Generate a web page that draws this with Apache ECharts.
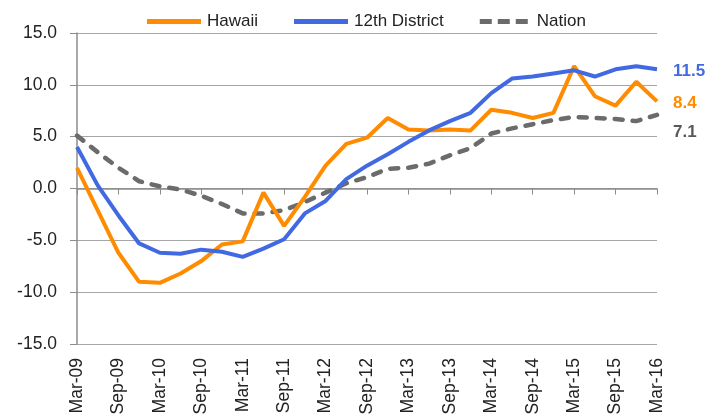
<!DOCTYPE html>
<html>
<head>
<meta charset="utf-8">
<script src="https://cdn.jsdelivr.net/npm/echarts@6/dist/echarts.min.js"></script>
<style>
html,body{margin:0;padding:0;background:#fff;}
#chart{width:725px;height:420px;}
</style>
</head>
<body>
<div id="chart"></div>
<script>
var categories = ['Mar-09','Jun-09','Sep-09','Dec-09','Mar-10','Jun-10','Sep-10','Dec-10','Mar-11','Jun-11','Sep-11','Dec-11','Mar-12','Jun-12','Sep-12','Dec-12','Mar-13','Jun-13','Sep-13','Dec-13','Mar-14','Jun-14','Sep-14','Dec-14','Mar-15','Jun-15','Sep-15','Dec-15','Mar-16'];
var hawaii = [2.0,-2.1,-6.2,-9.0,-9.1,-8.2,-7.0,-5.4,-5.1,-0.4,-3.6,-0.8,2.2,4.3,4.9,6.8,5.7,5.6,5.7,5.6,7.6,7.3,6.8,7.3,11.8,8.9,8.0,10.3,8.4];
var district = [4.0,0.3,-2.6,-5.3,-6.2,-6.3,-5.9,-6.1,-6.6,-5.8,-4.9,-2.4,-1.2,0.9,2.2,3.3,4.5,5.6,6.5,7.3,9.2,10.6,10.8,11.1,11.4,10.8,11.5,11.8,11.5];
var nation = [5.1,3.5,2.0,0.7,0.2,-0.1,-0.7,-1.5,-2.4,-2.4,-2.1,-1.3,-0.4,0.5,1.1,1.9,2.0,2.4,3.2,3.9,5.3,5.8,6.2,6.6,6.9,6.8,6.7,6.5,7.1];
var yTicks = [-15,-10,-5,0,5,10,15];
var seriesNames = ['Hawaii','12th District','Nation'];

var FONT = '"Liberation Sans", Arial, sans-serif';
var cOrange = '#FF8C00', cBlue = '#4169E1', cGray = '#6B6B6B';
var solidIcon = 'path://M0,0h54v5h-54z';
var dashIcon = 'path://M0,0h12v5h-12z M18,0h12v5h-12z M36,0h12v5h-12z';

var chart = echarts.init(document.getElementById('chart'), null, {renderer:'canvas'});
function endLbl(color, off){
  return {show:true, formatter:function(p){return p.value.toFixed(1);}, color:color, fontFamily:FONT, fontSize:17, fontWeight:'bold', distance:16, offset:off};
}
chart.setOption({
  animation:false,
  legend:{
    top:8, left:142, itemWidth:54, itemHeight:5, itemGap:36,
    textStyle:{fontFamily:FONT, fontSize:17, color:'#222', padding:[0,0,0,1]},
    data:[{name:seriesNames[0], icon:solidIcon},{name:seriesNames[1], icon:solidIcon},{name:seriesNames[2], icon:dashIcon}]
  },
  grid:{left:77, right:68, top:33, bottom:76},
  xAxis:[{
    type:'category', data:categories, boundaryGap:false, position:'bottom',
    axisLine:{onZero:true, lineStyle:{color:'#8C8C8C', width:1.5}},
    axisTick:{show:true, interval:1, length:6, lineStyle:{color:'#8C8C8C'}},
    axisLabel:{show:false}, splitLine:{show:false}
  },{
    type:'category', data:categories, boundaryGap:false, position:'bottom',
    axisLine:{show:false, onZero:false}, axisTick:{show:false},
    axisLabel:{show:true, interval:1, rotate:90, margin:14, fontFamily:FONT, fontSize:17.5, color:'#222'},
    splitLine:{show:false}
  }],
  yAxis:{
    type:'value', min:yTicks[0], max:yTicks[yTicks.length-1], interval:5,
    axisLine:{show:true, lineStyle:{color:'#8C8C8C', width:1.5}},
    axisTick:{show:true, length:7, lineStyle:{color:'#8C8C8C'}},
    axisLabel:{formatter:function(v){return v.toFixed(1);}, margin:20, fontFamily:FONT, fontSize:17.5, color:'#222'},
    splitLine:{lineStyle:{color:'#A6A6A6', width:1}}
  },
  series:[{
    name:seriesNames[0], type:'line', data:hawaii, symbol:'none', xAxisIndex:0,
    lineStyle:{color:cOrange, width:4}, itemStyle:{color:cOrange},
    endLabel:endLbl(cOrange,[0,2]), z:3
  },{
    name:seriesNames[1], type:'line', data:district, symbol:'none', xAxisIndex:0,
    lineStyle:{color:cBlue, width:4}, itemStyle:{color:cBlue},
    endLabel:endLbl(cBlue,[0,2]), z:4
  },{
    name:seriesNames[2], type:'line', data:nation, symbol:'none', xAxisIndex:0,
    lineStyle:{color:cGray, width:4.5, type:[8,10], cap:'round'}, itemStyle:{color:cGray},
    endLabel:endLbl('#595959',[0,17]), z:2
  }]
});
</script>
</body>
</html>
